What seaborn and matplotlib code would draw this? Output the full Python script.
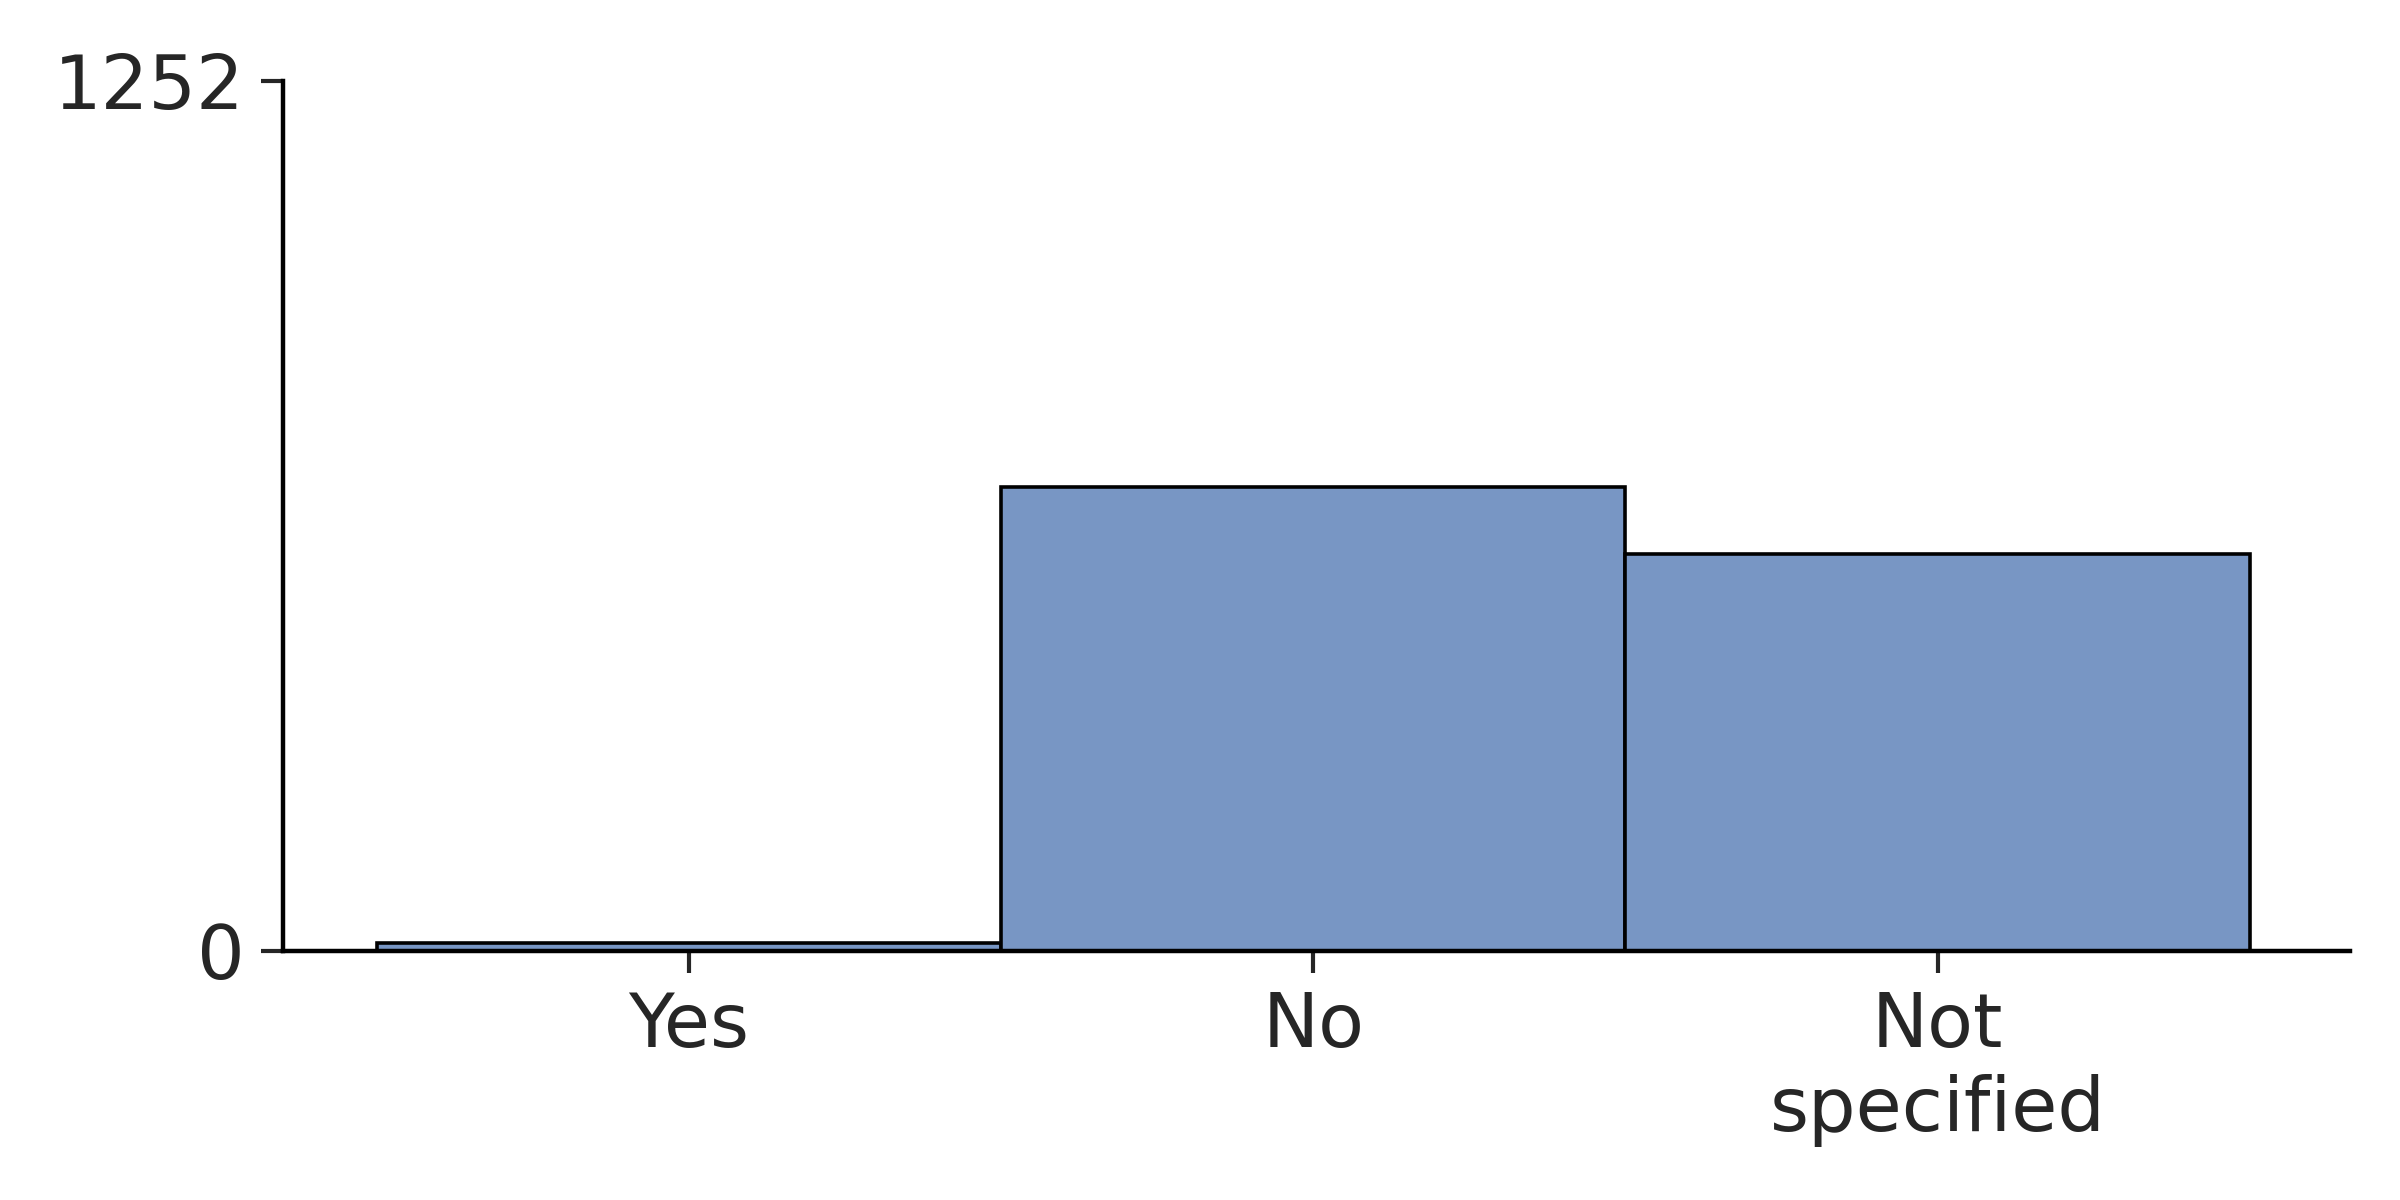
import pandas as pd
import seaborn as sns
import matplotlib
matplotlib.use('Agg')
import matplotlib.pyplot as plt

# Data
categories = ['Yes', 'No', 'Not\nspecified']
counts = [12, 668, 572]
total = sum(counts)

sns.set_style('ticks')
plt.rcParams['font.family'] = ['DejaVu Sans']

df = pd.DataFrame({'answer': categories, 'count': counts})

fig = plt.figure(figsize=(12, 6), dpi=200)
ax = fig.add_axes([0.118, 0.2075, 0.861, 0.725])

sns.barplot(data=df, x='answer', y='count', order=categories, width=1.0,
            color='#7896c4', saturation=1, edgecolor='black', linewidth=1.3, ax=ax)

ax.set_xlim(-0.65, 2.66)
ax.set_ylim(0, total)
ax.set_yticks([0, total])
ax.set_xlabel('')
ax.set_ylabel('')
ax.tick_params(axis='both', labelsize=27, length=8, width=1.5, colors='#262626', pad=6)
for side in ['left', 'bottom']:
    ax.spines[side].set_linewidth(1.6)
    ax.spines[side].set_color('black')
sns.despine(ax=ax)

fig.savefig('out.png', dpi=200)
